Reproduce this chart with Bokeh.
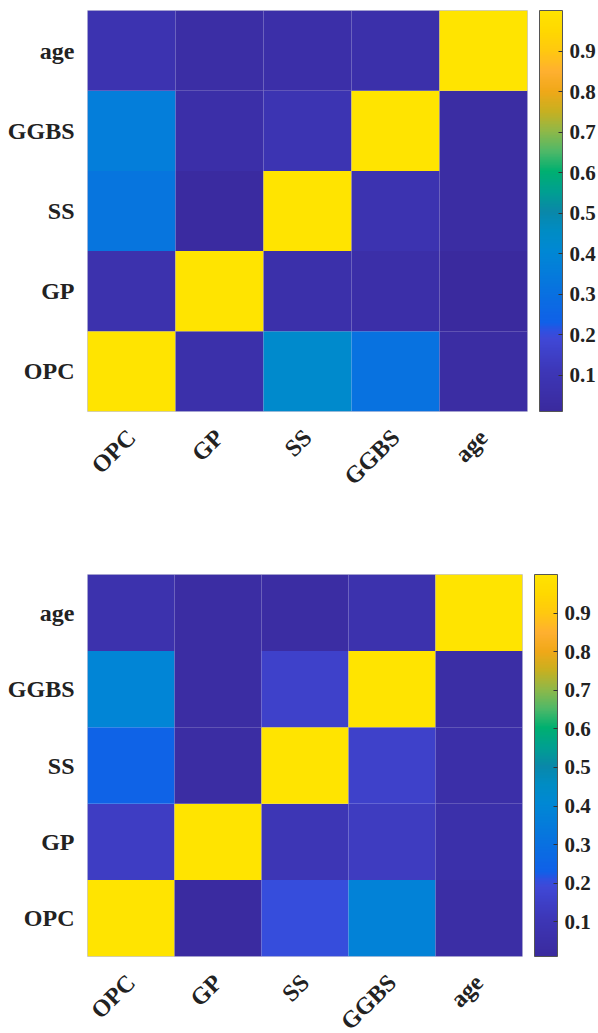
import numpy as np
from bokeh.plotting import figure
from bokeh.models import ColumnDataSource, LinearColorMapper, ColorBar, FixedTicker
from bokeh.layouts import column
from bokeh.embed import file_html
from bokeh.resources import INLINE

cats = ["OPC", "GP", "SS", "GGBS", "age"]
cb_ticks = [0.1, 0.2, 0.3, 0.4, 0.5, 0.6, 0.7, 0.8, 0.9]
c_low, c_high = 0.01, 1.0

# top matrix: one list per row (y category), values along x categories
top_OPC = [1.00, 0.06, 0.43, 0.31, 0.03]
top_GP = [0.07, 1.00, 0.06, 0.05, 0.01]
top_SS = [0.32, 0.02, 1.00, 0.08, 0.03]
top_GGBS = [0.36, 0.05, 0.09, 1.00, 0.03]
top_age = [0.08, 0.04, 0.05, 0.06, 1.00]

# bottom matrix
bot_OPC = [1.00, 0.02, 0.20, 0.38, 0.04]
bot_GP = [0.14, 1.00, 0.10, 0.13, 0.06]
bot_SS = [0.24, 0.03, 1.00, 0.16, 0.05]
bot_GGBS = [0.39, 0.03, 0.16, 1.00, 0.04]
bot_age = [0.07, 0.03, 0.03, 0.07, 1.00]

# parula-like colour map
anchor_pos = [0.0, 0.1, 0.18, 0.2, 0.22, 0.3, 0.4, 0.45, 0.5, 0.55, 0.6, 0.65, 0.7, 0.75, 0.8, 0.85, 0.9, 0.95, 1.0]
anchor_col = ["#3A2A9E", "#3D37B8", "#3F48D6", "#3050E0", "#1060E8", "#0872E0", "#0088D4", "#008CC4",
              "#0A88A8", "#00A090", "#00B070", "#50B868", "#90B848", "#C8B020", "#F0A818", "#FFB030",
              "#FFC810", "#FFD800", "#FFE400"]


def build_palette(n=256):
    rgb = np.array([[int(c[i:i + 2], 16) for i in (1, 3, 5)] for c in anchor_col], dtype=float)
    t = np.linspace(0, 1, n)
    out = []
    for tt in t:
        r = np.interp(tt, anchor_pos, rgb[:, 0])
        g = np.interp(tt, anchor_pos, rgb[:, 1])
        b = np.interp(tt, anchor_pos, rgb[:, 2])
        out.append("#%02x%02x%02x" % (int(round(r)), int(round(g)), int(round(b))))
    return out


palette = build_palette()
FONT = "Liberation Serif"


def make(rows, fw, fh, left, top, bottom, right):
    xs, ys, vs = [], [], []
    for rname, vals in zip(cats, rows):
        for cname, v in zip(cats, vals):
            xs.append(cname)
            ys.append(rname)
            vs.append(v)
    src = ColumnDataSource(dict(x=xs, y=ys, v=vs))
    mapper = LinearColorMapper(palette=palette, low=c_low, high=c_high)
    p = figure(x_range=cats, y_range=cats, frame_width=fw, frame_height=fh,
               output_backend="svg", toolbar_location=None,
               min_border_left=left, min_border_top=top, min_border_bottom=bottom,
               min_border_right=right)
    p.rect(x="x", y="y", width=1, height=1, source=src,
           fill_color={"field": "v", "transform": mapper}, line_color=None)
    p.grid.visible = False
    p.outline_line_color = "#c8c8dc"
    p.outline_line_width = 1
    for ax in (p.xaxis, p.yaxis):
        ax.axis_line_color = None
        ax.major_tick_line_color = None
        ax.minor_tick_line_color = None
        ax.major_label_text_font = FONT
        ax.major_label_text_font_style = "bold"
        ax.major_label_text_font_size = "24px"
        ax.major_label_text_color = "#222222"
    p.yaxis.major_label_standoff = 7
    p.xaxis.major_label_standoff = 16
    p.xaxis.major_label_orientation = np.pi / 4
    cb = ColorBar(color_mapper=mapper, ticker=FixedTicker(ticks=cb_ticks),
                  width=23, height=fh, padding=0, location=(fw + 12, 0),
                  bar_line_color="#555555", bar_line_width=1,
                  major_tick_line_color="#333333", major_tick_in=4, major_tick_out=0,
                  minor_tick_line_color=None,
                  major_label_text_font=FONT, major_label_text_font_style="bold",
                  major_label_text_font_size="21px", major_label_text_color="#222222",
                  label_standoff=7, border_line_color=None, background_fill_color=None)
    p.add_layout(cb)
    return p


p1 = make([top_OPC, top_GP, top_SS, top_GGBS, top_age], 440, 401, 84, 10, 91, 74)
p2 = make([bot_OPC, bot_GP, bot_SS, bot_GGBS, bot_age], 435, 382, 87, 72, 76, 76)

layout = column(p1, p2, spacing=0)
open("out.html", "w").write(file_html(layout, INLINE))
